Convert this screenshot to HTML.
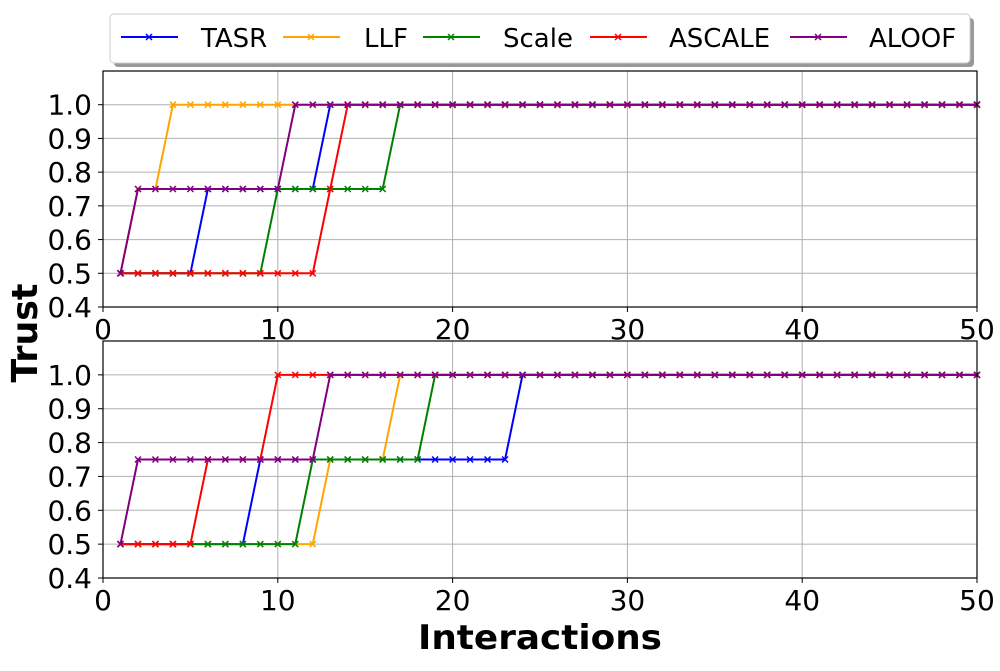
<!DOCTYPE html>
<html><head><meta charset="utf-8"><style>
body{margin:0;background:#fff}
svg text{font-family:"DejaVu Sans","Liberation Sans",sans-serif}
</style></head><body>
<svg id="chart" width="1000" height="666" xmlns="http://www.w3.org/2000/svg"></svg>
<script>
const seriesNames=["TASR","LLF","Scale","ASCALE","ALOOF"];
const seriesColors=["blue","orange","green","red","purple"];
const xTicks=[0,10,20,30,40,50];
const yTicks=[0.4,0.5,0.6,0.7,0.8,0.9,1.0];
// switch points: last interaction at 0.5, last interaction at 0.75
const topSwitch05=[5,1,9,12,1];
const topSwitch075=[12,3,16,13,10];
const botSwitch05=[8,12,11,5,1];
const botSwitch075=[23,16,18,9,12];
function build(s05,s075){return s05.map((a,i)=>{const v=[];for(let x=1;x<=50;x++)v.push(x<=a?0.5:(x<=s075[i]?0.75:1.0));return v;});}
const topValues=build(topSwitch05,topSwitch075);
const botValues=build(botSwitch05,botSwitch075);

const NS="http://www.w3.org/2000/svg";
const svg=document.getElementById('chart');
function el(t,a,p){const e=document.createElementNS(NS,t);for(const k in a)e.setAttribute(k,a[k]);(p||svg).appendChild(e);return e;}
const L=103,R=977;
function sx(x){return L+(x)/50*(R-L);}
function panel(top,bottom,vals,name){
  const sy=v=>bottom-(v-0.4)/(1.1-0.4)*(bottom-top);
  const g=el('g',{});
  
  
  xTicks.forEach(t=>{el('line',{x1:sx(t),x2:sx(t),y1:top,y2:bottom,stroke:'#b0b0b0','stroke-width':1},g);});
  yTicks.forEach(t=>{el('line',{x1:L,x2:R,y1:sy(t),y2:sy(t),stroke:'#b0b0b0','stroke-width':1},g);
    el('line',{x1:L-5,x2:L,y1:sy(t),y2:sy(t),stroke:'#000'},g);
    const tx=el('text',{x:L-11,y:sy(t)+10,'text-anchor':'end','font-size':28},g);tx.textContent=t.toFixed(1);
    
    });
  xTicks.forEach(t=>{el('line',{x1:sx(t),x2:sx(t),y1:bottom,y2:bottom+5,stroke:'#000'},g);
    const tx=el('text',{x:sx(t),y:bottom+32,'text-anchor':'middle','font-size':28},g);tx.textContent=t;
    
    });
  vals.forEach((v,i)=>{
    const pts=v.map((y,j)=>sx(j+1)+','+sy(y)).join(' ');
    const pl=el('polyline',{points:pts,fill:'none',stroke:seriesColors[i],'stroke-width':2},g);
    
    
    v.forEach((y,j)=>{const cx=sx(j+1),cy=sy(y),d=3;
      el('path',{d:`M${cx-d},${cy-d}L${cx+d},${cy+d}M${cx-d},${cy+d}L${cx+d},${cy-d}`,stroke:seriesColors[i],'stroke-width':1.5},g);});
  });
  el('rect',{x:L,y:top,width:R-L,height:bottom-top,fill:'none',stroke:'#000','stroke-width':1.2},g);
}
panel(71,307,topValues,'top-panel');
panel(341,578,botValues,'bottom-panel');
let t=el('text',{x:540,y:649,'text-anchor':'middle','font-size':34,'font-weight':'bold',textLength:244,lengthAdjust:'spacingAndGlyphs'});t.textContent='Interactions';

t=el('text',{x:37,y:333,'text-anchor':'middle','font-size':36,'font-weight':'bold',textLength:99,lengthAdjust:'spacingAndGlyphs',transform:'rotate(-90 37 333)'});t.textContent='Trust';

// legend
const lg=el('g',{});


el('rect',{x:114,y:18,width:860,height:49,rx:4,fill:'#999'},lg);
el('rect',{x:110,y:14,width:860,height:49,rx:4,fill:'#fff',stroke:'#ccc'},lg);
const lx=[121,283,423,590,790];
const tx0=[201,364,503,669,869];
seriesNames.forEach((n,i)=>{
  const x=lx[i],y=37;
  el('line',{x1:x,x2:x+57,y1:y,y2:y,stroke:seriesColors[i],'stroke-width':2},lg);
  const c=x+28;el('path',{d:`M${c-3},${y-3}L${c+3},${y+3}M${c-3},${y+3}L${c+3},${y-3}`,stroke:seriesColors[i],'stroke-width':1.5},lg);
  const tx=el('text',{x:tx0[i],y:y+10,'font-size':26},lg);tx.textContent=n;
  
  
});
</script>
</body></html>
